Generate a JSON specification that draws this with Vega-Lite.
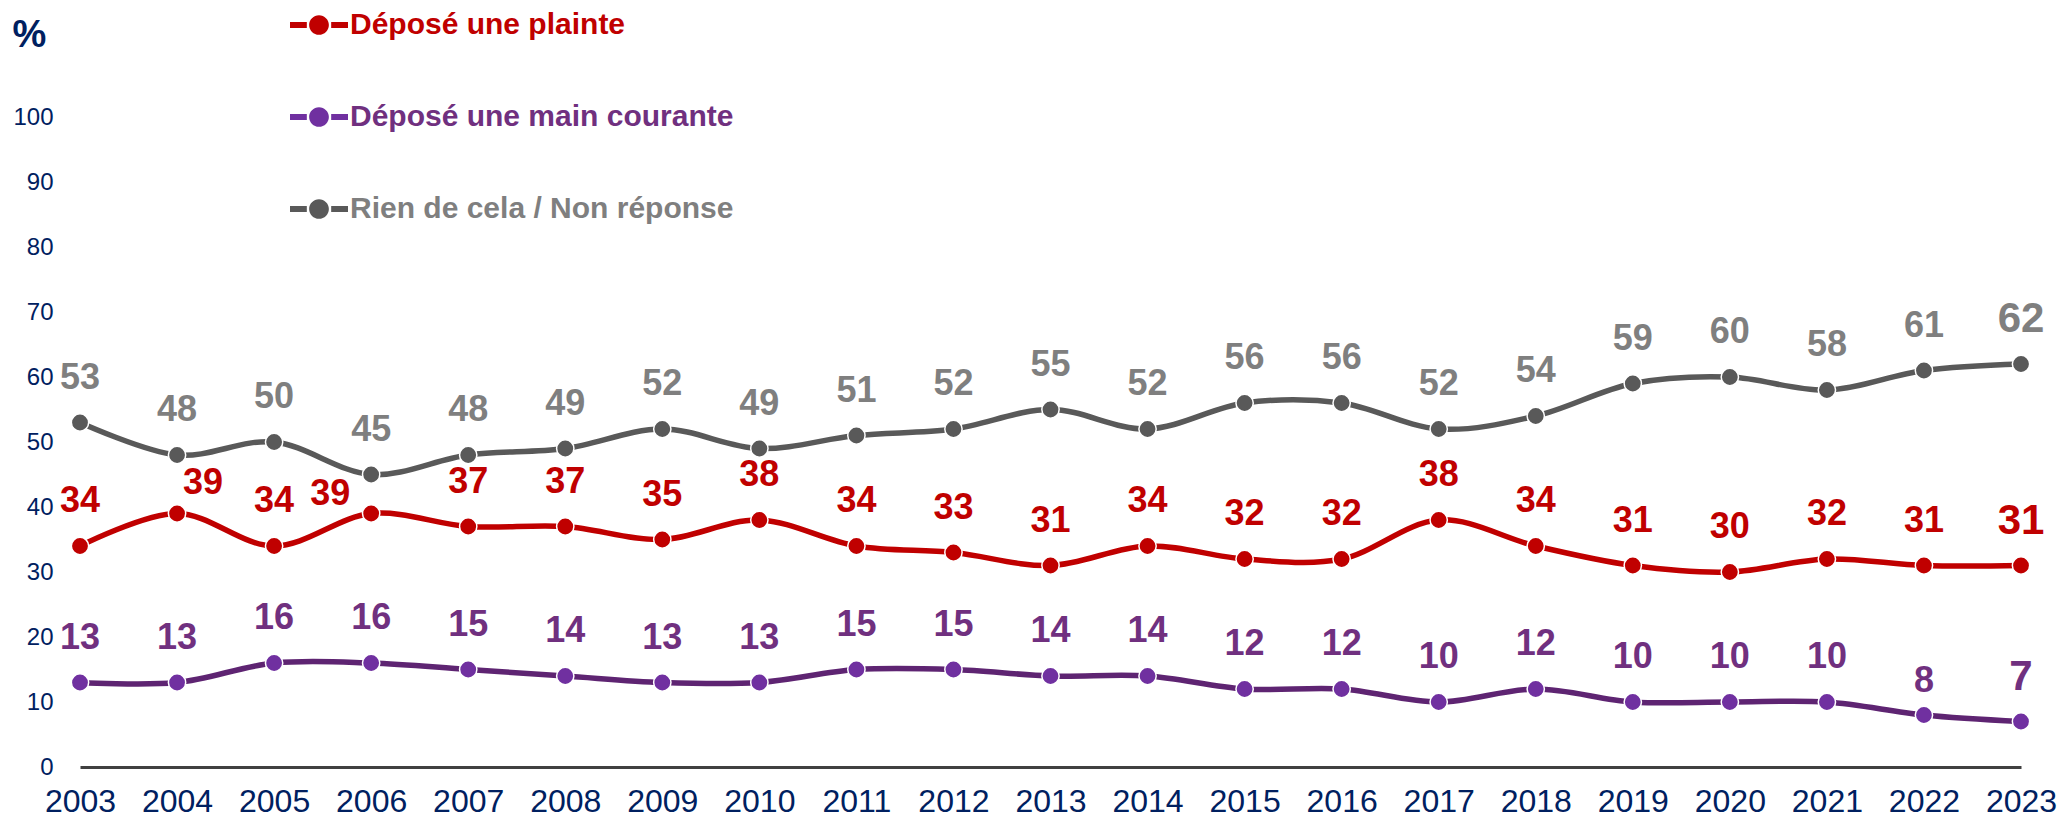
{
  "$schema": "https://vega.github.io/schema/vega-lite/v6.json",
  "width": 1941,
  "height": 650,
  "autosize": "none",
  "padding": {"left": 80, "top": 117, "right": 50, "bottom": 50},
  "background": "white",
  "config": {"view": {"stroke": null}, "font": "Liberation Sans"},
  "data": {"values": [
    {"year": 2003, "series": "Déposé une plainte", "value": 34},
    {"year": 2004, "series": "Déposé une plainte", "value": 39},
    {"year": 2005, "series": "Déposé une plainte", "value": 34},
    {"year": 2006, "series": "Déposé une plainte", "value": 39},
    {"year": 2007, "series": "Déposé une plainte", "value": 37},
    {"year": 2008, "series": "Déposé une plainte", "value": 37},
    {"year": 2009, "series": "Déposé une plainte", "value": 35},
    {"year": 2010, "series": "Déposé une plainte", "value": 38},
    {"year": 2011, "series": "Déposé une plainte", "value": 34},
    {"year": 2012, "series": "Déposé une plainte", "value": 33},
    {"year": 2013, "series": "Déposé une plainte", "value": 31},
    {"year": 2014, "series": "Déposé une plainte", "value": 34},
    {"year": 2015, "series": "Déposé une plainte", "value": 32},
    {"year": 2016, "series": "Déposé une plainte", "value": 32},
    {"year": 2017, "series": "Déposé une plainte", "value": 38},
    {"year": 2018, "series": "Déposé une plainte", "value": 34},
    {"year": 2019, "series": "Déposé une plainte", "value": 31},
    {"year": 2020, "series": "Déposé une plainte", "value": 30},
    {"year": 2021, "series": "Déposé une plainte", "value": 32},
    {"year": 2022, "series": "Déposé une plainte", "value": 31},
    {"year": 2023, "series": "Déposé une plainte", "value": 31},
    {"year": 2003, "series": "Déposé une main courante", "value": 13},
    {"year": 2004, "series": "Déposé une main courante", "value": 13},
    {"year": 2005, "series": "Déposé une main courante", "value": 16},
    {"year": 2006, "series": "Déposé une main courante", "value": 16},
    {"year": 2007, "series": "Déposé une main courante", "value": 15},
    {"year": 2008, "series": "Déposé une main courante", "value": 14},
    {"year": 2009, "series": "Déposé une main courante", "value": 13},
    {"year": 2010, "series": "Déposé une main courante", "value": 13},
    {"year": 2011, "series": "Déposé une main courante", "value": 15},
    {"year": 2012, "series": "Déposé une main courante", "value": 15},
    {"year": 2013, "series": "Déposé une main courante", "value": 14},
    {"year": 2014, "series": "Déposé une main courante", "value": 14},
    {"year": 2015, "series": "Déposé une main courante", "value": 12},
    {"year": 2016, "series": "Déposé une main courante", "value": 12},
    {"year": 2017, "series": "Déposé une main courante", "value": 10},
    {"year": 2018, "series": "Déposé une main courante", "value": 12},
    {"year": 2019, "series": "Déposé une main courante", "value": 10},
    {"year": 2020, "series": "Déposé une main courante", "value": 10},
    {"year": 2021, "series": "Déposé une main courante", "value": 10},
    {"year": 2022, "series": "Déposé une main courante", "value": 8},
    {"year": 2023, "series": "Déposé une main courante", "value": 7},
    {"year": 2003, "series": "Rien de cela / Non réponse", "value": 53},
    {"year": 2004, "series": "Rien de cela / Non réponse", "value": 48},
    {"year": 2005, "series": "Rien de cela / Non réponse", "value": 50},
    {"year": 2006, "series": "Rien de cela / Non réponse", "value": 45},
    {"year": 2007, "series": "Rien de cela / Non réponse", "value": 48},
    {"year": 2008, "series": "Rien de cela / Non réponse", "value": 49},
    {"year": 2009, "series": "Rien de cela / Non réponse", "value": 52},
    {"year": 2010, "series": "Rien de cela / Non réponse", "value": 49},
    {"year": 2011, "series": "Rien de cela / Non réponse", "value": 51},
    {"year": 2012, "series": "Rien de cela / Non réponse", "value": 52},
    {"year": 2013, "series": "Rien de cela / Non réponse", "value": 55},
    {"year": 2014, "series": "Rien de cela / Non réponse", "value": 52},
    {"year": 2015, "series": "Rien de cela / Non réponse", "value": 56},
    {"year": 2016, "series": "Rien de cela / Non réponse", "value": 56},
    {"year": 2017, "series": "Rien de cela / Non réponse", "value": 52},
    {"year": 2018, "series": "Rien de cela / Non réponse", "value": 54},
    {"year": 2019, "series": "Rien de cela / Non réponse", "value": 59},
    {"year": 2020, "series": "Rien de cela / Non réponse", "value": 60},
    {"year": 2021, "series": "Rien de cela / Non réponse", "value": 58},
    {"year": 2022, "series": "Rien de cela / Non réponse", "value": 61},
    {"year": 2023, "series": "Rien de cela / Non réponse", "value": 62}
  ]},
  "encoding": {
    "x": {
      "field": "year", "type": "quantitative",
      "scale": {"domain": [2003, 2023], "nice": false, "zero": false},
      "axis": {
        "title": null, "grid": false, "ticks": false, "tickSize": 0,
        "values": [2003,2004,2005,2006,2007,2008,2009,2010,2011,2012,2013,2014,2015,2016,2017,2018,2019,2020,2021,2022,2023],
        "format": "d", "labelFontSize": 32, "labelColor": "#002060",
        "labelBaseline": "alphabetic", "labelPadding": 44,
        "labelFlush": false, "labelOverlap": false,
        "domainColor": "#404040", "domainWidth": 3
      }
    },
    "y": {
      "field": "value", "type": "quantitative",
      "scale": {"domain": [0, 100], "nice": false},
      "axis": {
        "title": "%", "titleAngle": 0, "titleX": -51, "titleY": -82,
        "titleAlign": "center", "titleBaseline": "middle",
        "titleFontSize": 38, "titleFontWeight": "bold", "titleColor": "#002060",
        "grid": false, "ticks": false, "tickSize": 0, "domain": false,
        "values": [0,10,20,30,40,50,60,70,80,90,100],
        "labelFontSize": 24, "labelColor": "#002060", "labelPadding": 27
      }
    }
  },
  "layer": [
    {
      "mark": {"type": "line", "interpolate": "cardinal", "strokeWidth": 5.5},
      "encoding": {
        "detail": {"field": "series"},
        "color": {
          "condition": [
            {"test": "datum.series === 'Déposé une plainte'", "value": "#C00000"},
            {"test": "datum.series === 'Déposé une main courante'", "value": "#5E2472"}
          ],
          "value": "#595959"
        }
      }
    },
    {
      "mark": {"type": "point", "filled": true, "size": 300, "stroke": "white", "strokeWidth": 1.5, "opacity": 1, "strokeOpacity": 1},
      "encoding": {
        "color": {
          "field": "series", "type": "nominal",
          "scale": {
            "domain": ["Déposé une plainte", "Déposé une main courante", "Rien de cela / Non réponse"],
            "range": ["#C00000", "#7030A0", "#595959"]
          },
          "legend": {
            "title": null, "orient": "none", "legendX": 210, "legendY": -121,
            "padding": 0,
            "symbolType": "M-1,-0.1H-0.42V0.1H-1Z M0.42,-0.1H1V0.1H0.42Z M-0.34,0A0.34,0.34 0 1,1 0.34,0A0.34,0.34 0 1,1 -0.34,0Z",
            "symbolSize": 3364, "symbolStrokeWidth": 0, "symbolOpacity": 1,
            "labelFontSize": 30, "labelFontWeight": "bold", "labelFont": "Liberation Sans",
            "labelOffset": 2, "labelLimit": 0, "rowPadding": 48,
            "labelColor": {"expr": "datum.index === 0 ? '#C00000' : datum.index === 1 ? '#70307F' : '#7F7F7F'"}
          }
        }
      }
    },
    {
      "transform": [{"filter": "!(datum.series === 'Déposé une plainte' && (datum.year === 2004 || datum.year === 2006)) && !(datum.series === 'Déposé une main courante' && datum.year === 2022)"}],
      "mark": {"type": "text", "fontWeight": "bold", "dy": -45, "align": "center", "baseline": "middle"},
      "encoding": {
        "text": {"field": "value", "type": "quantitative"},
        "size": {"condition": {"test": "datum.year === 2023", "value": 42}, "value": 36},
        "color": {
          "condition": [
            {"test": "datum.series === 'Déposé une plainte'", "value": "#C00000"},
            {"test": "datum.series === 'Déposé une main courante'", "value": "#70307F"}
          ],
          "value": "#7F7F7F"
        }
      }
    },
    {
      "transform": [{"filter": "datum.series === 'Déposé une plainte' && datum.year === 2004"}],
      "mark": {"type": "text", "fontWeight": "bold", "dx": 26, "dy": -31, "align": "center", "baseline": "middle", "fontSize": 36, "color": "#C00000"},
      "encoding": {"text": {"field": "value", "type": "quantitative"}}
    },
    {
      "transform": [{"filter": "datum.series === 'Déposé une plainte' && datum.year === 2006"}],
      "mark": {"type": "text", "fontWeight": "bold", "dx": -41, "dy": -20, "align": "center", "baseline": "middle", "fontSize": 36, "color": "#C00000"},
      "encoding": {"text": {"field": "value", "type": "quantitative"}}
    },
    {
      "transform": [{"filter": "datum.series === 'Déposé une main courante' && datum.year === 2022"}],
      "mark": {"type": "text", "fontWeight": "bold", "dy": -34, "align": "center", "baseline": "middle", "fontSize": 36, "color": "#70307F"},
      "encoding": {"text": {"field": "value", "type": "quantitative"}}
    }
  ]
}
